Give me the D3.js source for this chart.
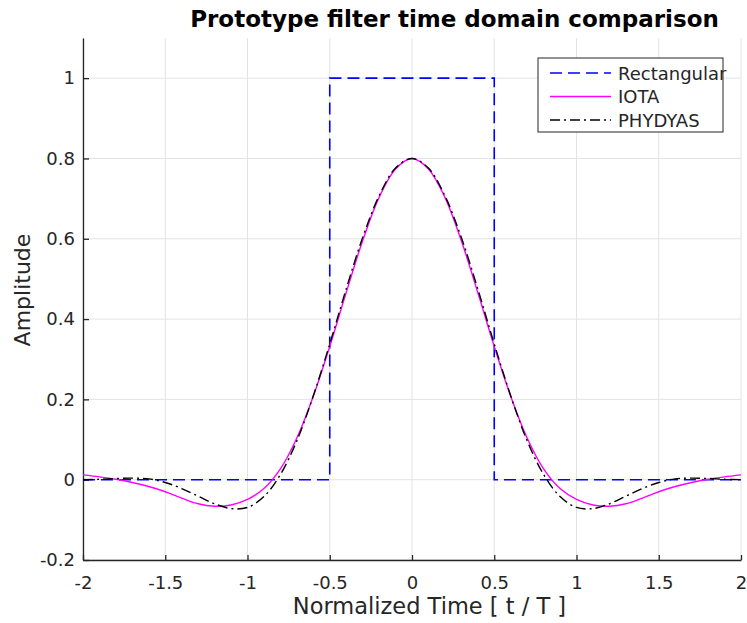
<!DOCTYPE html>
<html>
<head>
<meta charset="utf-8">
<script src="https://cdn.jsdelivr.net/npm/d3@7"></script>
<style>
  body { margin: 0; background: #fff; }
  text { font-family: "DejaVu Sans", sans-serif; fill: #262626; }
</style>
</head>
<body>
<div id="chart"></div>
<script>
// normalized time samples (t / T)
const timeSteps = [-2.0, -1.9, -1.8, -1.7, -1.6, -1.5, -1.4, -1.3, -1.2, -1.1,
                   -1.0, -0.9, -0.8, -0.7, -0.6, -0.5, -0.4, -0.3, -0.2, -0.1,
                    0.0,  0.1,  0.2,  0.3,  0.4,  0.5,  0.6,  0.7,  0.8,  0.9,
                    1.0,  1.1,  1.2,  1.3,  1.4,  1.5,  1.6,  1.7,  1.8,  1.9, 2.0];

const iotaValues = [0.012, 0.007, 0.001, -0.007, -0.017, -0.030, -0.046, -0.060, -0.066, -0.063,
                    -0.049, -0.022, 0.027, 0.104, 0.208, 0.332, 0.466, 0.595, 0.703, 0.774,
                    0.800, 0.774, 0.703, 0.595, 0.466, 0.332, 0.208, 0.104, 0.027, -0.022,
                    -0.049, -0.063, -0.066, -0.060, -0.046, -0.030, -0.017, -0.007, 0.001, 0.007, 0.012];

const phydyasValues = [0.000, 0.001, 0.003, 0.004, 0.002, -0.007, -0.022, -0.041, -0.060, -0.072,
                       -0.069, -0.042, 0.013, 0.097, 0.209, 0.338, 0.475, 0.603, 0.707, 0.776,
                       0.800, 0.776, 0.707, 0.603, 0.475, 0.338, 0.209, 0.097, 0.013, -0.042,
                       -0.069, -0.072, -0.060, -0.041, -0.022, -0.007, 0.002, 0.004, 0.003, 0.001, 0.000];

// rectangular pulse corners
const rectTimes = [-2, -0.5, -0.5, 0.5, 0.5, 2];
const rectValues = [0, 0, 1, 1, 0, 0];

const xTicks = [-2, -1.5, -1, -0.5, 0, 0.5, 1, 1.5, 2];
const yTicks = [-0.2, 0, 0.2, 0.4, 0.6, 0.8, 1];

const W = 747, H = 623;
const margin = { top: 38, right: 6, bottom: 63, left: 83 };

const svg = d3.select("#chart")
  .append("svg")
  .attr("width", W)
  .attr("height", H);

const x = d3.scaleLinear().domain([-2, 2]).range([margin.left, W - margin.right]);
const y = d3.scaleLinear().domain([-0.2, 1.1]).range([H - margin.bottom, margin.top]);

// grid
svg.append("g")
  .selectAll("line.vgrid")
  .data(xTicks)
  .join("line")
  .attr("x1", d => x(d)).attr("x2", d => x(d))
  .attr("y1", y(1.1)).attr("y2", y(-0.2))
  .attr("stroke", "#e3e3e3").attr("stroke-width", 1);

svg.append("g")
  .selectAll("line.hgrid")
  .data(yTicks)
  .join("line")
  .attr("x1", x(-2)).attr("x2", x(2))
  .attr("y1", d => y(d)).attr("y2", d => y(d))
  .attr("stroke", "#e3e3e3").attr("stroke-width", 1);

// axes (ticks point inward), plain hyphen for negatives
const fmt = d => String(d);
const xAxis = svg.append("g")
  .attr("transform", `translate(0,${y(-0.2)})`)
  .call(d3.axisBottom(x).tickValues(xTicks).tickSize(-5).tickSizeOuter(0).tickPadding(12).tickFormat(fmt));
const yAxis = svg.append("g")
  .attr("transform", `translate(${x(-2)},0)`)
  .call(d3.axisLeft(y).tickValues(yTicks).tickSize(-6).tickSizeOuter(0).tickPadding(8).tickFormat(fmt));

[xAxis, yAxis].forEach(a => {
  a.select(".domain").attr("stroke", "#262626").attr("stroke-width", 1.3);
  a.selectAll(".tick line").attr("stroke", "#262626").attr("stroke-width", 1.3);
  a.selectAll(".tick text").attr("font-size", "18px").attr("fill", "#262626")
    .attr("font-family", "DejaVu Sans, sans-serif");
});
xAxis.selectAll(".tick text").attr("dy", "0.95em");

// curves
const rectLine = d3.line()
  .x((d, i) => x(rectTimes[i]))
  .y(d => y(d));

const smoothLine = d3.line()
  .x((d, i) => x(timeSteps[i]))
  .y(d => y(d))
  .curve(d3.curveCatmullRom);

svg.append("path")
  .datum(rectValues)
  .attr("d", rectLine)
  .attr("fill", "none")
  .attr("stroke", "#0000ff")
  .attr("stroke-width", 1.6)
  .attr("stroke-dasharray", "12,6");

svg.append("path")
  .datum(iotaValues)
  .attr("d", smoothLine)
  .attr("fill", "none")
  .attr("stroke", "#ff00ff")
  .attr("stroke-width", 1.4);

svg.append("path")
  .datum(phydyasValues)
  .attr("d", smoothLine)
  .attr("fill", "none")
  .attr("stroke", "#000000")
  .attr("stroke-width", 1.4)
  .attr("stroke-dasharray", "10,4,2,4");

// legend
const legendItems = [
  { name: "Rectangular", color: "#0000ff", dash: "12,6", width: 1.6 },
  { name: "IOTA", color: "#ff00ff", dash: null, width: 1.4 },
  { name: "PHYDYAS", color: "#000000", dash: "10,4,2,4", width: 1.4 }
];

const legend = svg.append("g").attr("transform", "translate(538,58)");
legend.append("rect")
  .attr("width", 185).attr("height", 74)
  .attr("fill", "#fff")
  .attr("stroke", "#262626").attr("stroke-width", 1);

legendItems.forEach((item, i) => {
  const yy = 15 + i * 23.5;
  legend.append("line")
    .attr("x1", 12).attr("x2", 73)
    .attr("y1", yy).attr("y2", yy)
    .attr("stroke", item.color)
    .attr("stroke-width", item.width)
    .attr("stroke-dasharray", item.dash);
  legend.append("text")
    .attr("x", 80).attr("y", yy + 6.5)
    .attr("font-size", "18px")
    .text(item.name);
});

// labels
svg.append("text")
  .attr("x", 454.5).attr("y", 27)
  .attr("text-anchor", "middle")
  .attr("font-size", "23px")
  .attr("font-weight", "bold")
  .style("fill", "#000")
  .text("Prototype filter time domain comparison");

svg.append("text")
  .attr("x", 429.5).attr("y", 614)
  .attr("text-anchor", "middle")
  .attr("font-size", "22.5px")
  .text("Normalized Time [ t / T ]");

svg.append("text")
  .attr("transform", "translate(30,290) rotate(-90)")
  .attr("text-anchor", "middle")
  .attr("font-size", "22px")
  .text("Amplitude");
</script>
</body>
</html>
